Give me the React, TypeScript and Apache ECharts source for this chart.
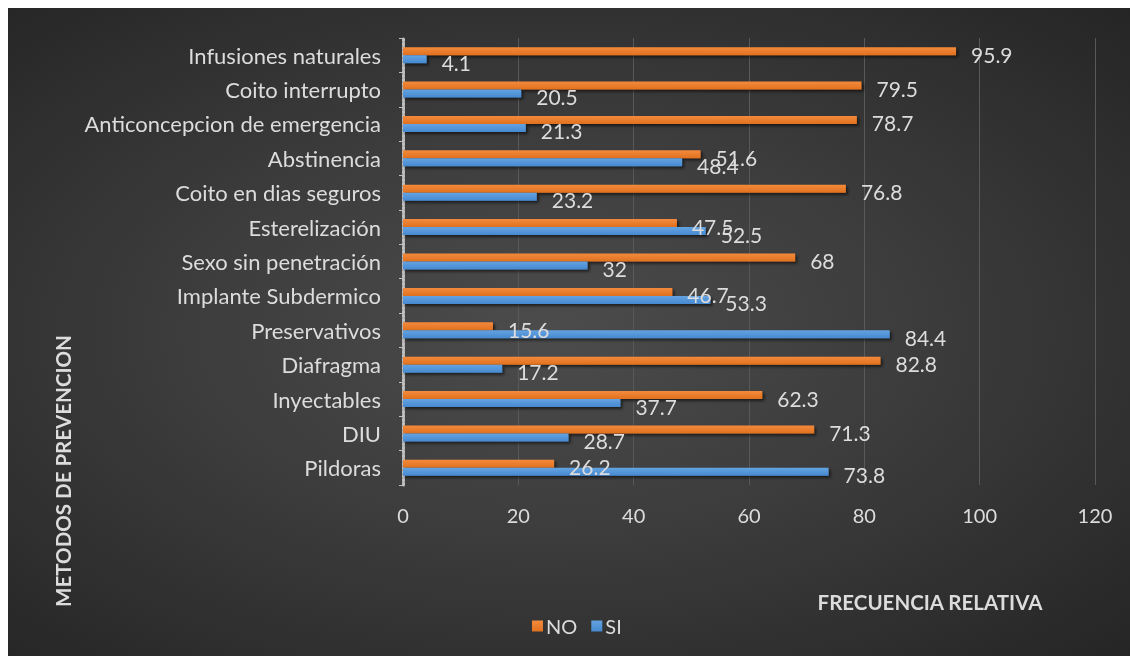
import React, { useEffect, useRef } from "react";
import * as echarts from "echarts";

const categories = [
  "Pildoras",
  "DIU",
  "Inyectables",
  "Diafragma",
  "Preservativos",
  "Implante Subdermico",
  "Sexo sin penetración",
  "Esterelización",
  "Coito en dias seguros",
  "Abstinencia",
  "Anticoncepcion de emergencia",
  "Coito interrupto",
  "Infusiones naturales",
];
const noValues = [26.2, 71.3, 62.3, 82.8, 15.6, 46.7, 68, 47.5, 76.8, 51.6, 78.7, 79.5, 95.9];
const siValues = [73.8, 28.7, 37.7, 17.2, 84.4, 53.3, 32, 52.5, 23.2, 48.4, 21.3, 20.5, 4.1];
const xTicks = { min: 0, max: 120, interval: 20 };

const FONT = "Lato, 'Open Sans', sans-serif";
const TXT = "#dcdcdc";

export default function App() {
  const ref = useRef<HTMLDivElement>(null);
  useEffect(() => {
    if (!ref.current) return;
    const chart = echarts.init(ref.current, undefined, { renderer: "svg" });
    const barShadow = {
      shadowColor: "rgba(0,0,0,0.6)",
      shadowBlur: 3,
      shadowOffsetX: 2,
      shadowOffsetY: 2,
    };
    const label = {
      show: true,
      position: "right" as const,
      distance: 15,
      offset: [0, 3],
      color: TXT,
      fontSize: 21,
      fontFamily: FONT,
    };
    chart.setOption({
      animation: false,
      backgroundColor: "transparent",
      textStyle: { fontFamily: FONT },
      grid: { left: 395, right: 35, top: 30, bottom: 171, containLabel: false },
      legend: {
        left: 519,
        top: 603,
        itemWidth: 11,
        itemHeight: 11,
        itemGap: 14,
        icon: "rect",
        textStyle: { color: TXT, fontSize: 20, fontFamily: FONT, padding: [0, 0, 0, -2] },
        data: ["NO", "SI"],
      },
      xAxis: {
        type: "value",
        min: xTicks.min,
        max: xTicks.max,
        interval: xTicks.interval,
        axisLine: { show: false },
        axisTick: { show: false },
        axisLabel: { color: TXT, fontSize: 20, fontFamily: FONT, margin: 20 },
        splitLine: { show: true, lineStyle: { color: "#595959", width: 1 } },
      },
      yAxis: {
        type: "category",
        data: categories,
        axisLine: { show: true, lineStyle: { color: "#bfbfbf", width: 3, type: [2, 2] } },
        axisTick: { show: true, length: 4, lineStyle: { color: "#bfbfbf" } },
        axisLabel: { color: TXT, fontSize: 22, fontFamily: FONT, margin: 22, padding: [0, 0, 4, 0] },
        splitLine: { show: false },
      },
      series: [
        {
          name: "NO",
          type: "bar",
          data: noValues,
          barWidth: 8,
          barGap: "0%",
          itemStyle: {
            color: new echarts.graphic.LinearGradient(0, 0, 0, 1, [
              { offset: 0, color: "#f48a3c" },
              { offset: 1, color: "#e0711f" },
            ]),
            ...barShadow,
          },
          label,
        },
        {
          name: "SI",
          type: "bar",
          data: siValues,
          barWidth: 8,
          barGap: "0%",
          itemStyle: {
            color: new echarts.graphic.LinearGradient(0, 0, 0, 1, [
              { offset: 0, color: "#64a3e2" },
              { offset: 1, color: "#4689d0" },
            ]),
            ...barShadow,
          },
          label,
        },
      ],
      graphic: [
        {
          type: "text",
          x: 55,
          y: 463,
          rotation: Math.PI / 2,
          style: {
            text: "METODOS DE PREVENCION",
            fill: TXT,
            font: `bold 20.5px ${FONT}`,
            textAlign: "center",
            textVerticalAlign: "middle",
          },
        },
        {
          type: "text",
          x: 922,
          y: 594,
          style: {
            text: "FRECUENCIA RELATIVA",
            fill: TXT,
            font: `bold 20.5px ${FONT}`,
            textAlign: "center",
            textVerticalAlign: "middle",
          },
        },
      ],
    });
    return () => chart.dispose();
  }, []);
  return (
    <div
      ref={ref}
      style={{
        position: "fixed",
        left: 8,
        top: 8,
        width: 1122,
        height: 648,
        background: "radial-gradient(ellipse at 48% 50%, #4c4c4c 0%, #3c3c3c 45%, #252525 100%)",
      }}
    />
  );
}
